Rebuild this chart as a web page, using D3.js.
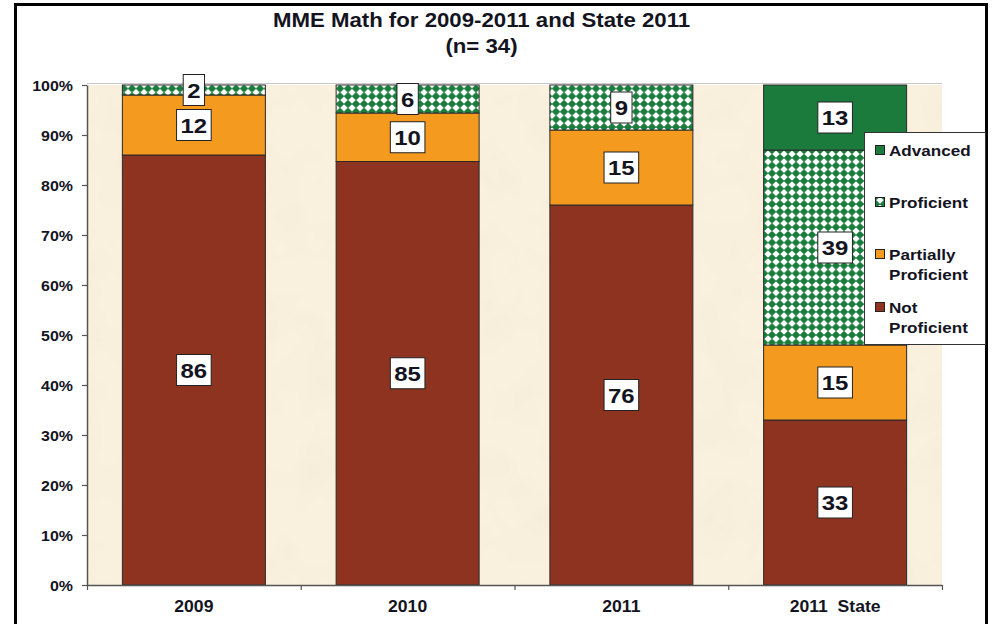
<!DOCTYPE html>
<html>
<head>
<meta charset="utf-8">
<script src="https://cdn.jsdelivr.net/npm/d3@7"></script>
<style>
  html, body { margin: 0; padding: 0; background: #ffffff; }
  svg { display: block; }
  text { font-family: "Liberation Sans", Arial, sans-serif; fill: #14141f; }
</style>
</head>
<body>
<div id="chart"></div>
<script>
// ---------- data ----------
const categories = ["2009", "2010", "2011", "2011  State"];
const notProficient = [86, 84.7, 76, 33];
const partiallyProficient = [12, 9.7, 15, 15];
const proficient = [2, 5.6, 9, 39];
const advanced = [0, 0, 0, 13];
const seriesNames = ["Not Proficient", "Partially Proficient", "Proficient", "Advanced"];
const legendLabels = [["Advanced"], ["Proficient"], ["Partially", "Proficient"], ["Not", "Proficient"]];
const yTicks = [0, 10, 20, 30, 40, 50, 60, 70, 80, 90, 100];
const titleLines = ["MME Math for 2009-2011 and State 2011", "(n= 34)"];

// ---------- setup ----------
const W = 993, H = 624;
const plot = { left: 87, right: 942, top: 85, bottom: 585 };
const SX = 1.14; // horizontal stretch of the reference text

const svg = d3.select("#chart").append("svg").attr("width", W).attr("height", H);
const defs = svg.append("defs");

// checkered proficient pattern
const pat = defs.append("pattern").attr("id", "prof").attr("patternUnits", "userSpaceOnUse")
  .attr("width", 8).attr("height", 7.7);
pat.append("rect").attr("width", 8).attr("height", 7.7).attr("fill", "#ffffff");
pat.append("rect").attr("x", 0).attr("y", 3.2).attr("width", 8).attr("height", 1.4).attr("fill", "#1b7d3d");
pat.append("rect").attr("x", 3.3).attr("y", 0).attr("width", 1.4).attr("height", 7.7).attr("fill", "#1b7d3d").attr("opacity", 0.6);
pat.append("path").attr("d", "M4,0.0 L7.9,3.9 L4,7.8 L0.1,3.9 Z").attr("fill", "#1b7d3d");
pat.append("circle").attr("cx", 4).attr("cy", 3.9).attr("r", 2.9).attr("fill", "#1b7d3d");

// paper texture
const filt = defs.append("filter").attr("id", "paper").attr("x", 0).attr("y", 0).attr("width", "100%").attr("height", "100%");
filt.append("feTurbulence").attr("type", "fractalNoise").attr("baseFrequency", "0.02").attr("numOctaves", 3).attr("seed", 7);
filt.append("feColorMatrix").attr("type", "matrix")
  .attr("values", "0 0 0 0 0.92  0 0 0 0 0.85  0 0 0 0 0.70  0 0 0 1.8 -0.7");

const colors = {
  "Not Proficient": "#8e3320",
  "Partially Proficient": "#f39a1f",
  "Proficient": "url(#prof)",
  "Advanced": "#1a7b3c"
};

// outer frame
svg.append("rect").attr("x", 15.5).attr("y", 4.5).attr("width", 971).attr("height", 660)
  .attr("fill", "none").attr("stroke", "#000").attr("stroke-width", 3);

// title
titleLines.forEach((t, i) => {
  svg.append("text")
    .attr("transform", `translate(${481.5},${27 + i * 26}) scale(${SX},1)`)
    .attr("text-anchor", "middle").attr("font-size", 19.5).attr("font-weight", "bold")
    .text(t);
});

// scales
const x = d3.scaleBand().domain(categories).range([plot.left, plot.right])
  .paddingInner(0.331).paddingOuter(0.1655);
const y = d3.scaleLinear().domain([0, 100]).range([plot.bottom, plot.top]);
const xb = d3.scaleLinear().domain([0, categories.length]).range([plot.left, plot.right]);

// plot background
svg.append("rect").attr("x", plot.left).attr("y", plot.top)
  .attr("width", plot.right - plot.left).attr("height", plot.bottom - plot.top).attr("fill", "#f9f0de");
svg.append("rect").attr("x", plot.left).attr("y", plot.top)
  .attr("width", plot.right - plot.left).attr("height", plot.bottom - plot.top)
  .attr("filter", "url(#paper)");
svg.append("line").attr("x1", plot.left).attr("x2", plot.right).attr("y1", plot.top - 1.5).attr("y2", plot.top - 1.5)
  .attr("stroke", "#c8c8c8").attr("stroke-width", 1);

// stack
const rows = categories.map((c, i) => ({
  cat: c,
  "Not Proficient": notProficient[i],
  "Partially Proficient": partiallyProficient[i],
  "Proficient": proficient[i],
  "Advanced": advanced[i]
}));
const stacked = d3.stack().keys(seriesNames)(rows);

const gBars = svg.append("g");
stacked.forEach(layer => {
  gBars.selectAll(null).data(layer.filter(d => d[1] - d[0] > 0)).enter().append("rect")
    .attr("x", d => x(d.data.cat))
    .attr("width", x.bandwidth())
    .attr("y", d => y(d[1]))
    .attr("height", d => y(d[0]) - y(d[1]))
    .attr("fill", colors[layer.key])
    .attr("stroke", "#2a2a2a").attr("stroke-width", 1);
});

// axes
const yAxis = svg.append("g").attr("transform", `translate(${plot.left},0)`)
  .call(d3.axisLeft(y).tickValues(yTicks).tickFormat(d => d + "%").tickSize(5).tickSizeOuter(0));
yAxis.select(".domain").attr("stroke", "#555").attr("stroke-width", 1.5);
yAxis.selectAll(".tick line").attr("stroke", "#555").attr("stroke-width", 1.2);
yAxis.selectAll(".tick text")
  .attr("x", -14 / SX).attr("dy", "0.36em")
  .attr("transform", `scale(${SX},1)`)
  .attr("font-size", 14).attr("font-weight", "bold").attr("font-family", "Liberation Sans, Arial, sans-serif")
  .attr("fill", "#14141f");

const xAxis = svg.append("g").attr("transform", `translate(0,${plot.bottom})`)
  .call(d3.axisBottom(xb).tickValues(d3.range(categories.length + 1)).tickFormat("").tickSize(5).tickSizeOuter(0));
xAxis.select(".domain").attr("stroke", "#555").attr("stroke-width", 1.5);
xAxis.selectAll(".tick line").attr("stroke", "#555").attr("stroke-width", 1.2);

svg.append("g").selectAll("text").data(categories).enter().append("text")
  .attr("transform", d => `translate(${x(d) + x.bandwidth() / 2},${612}) scale(1.1,1)`)
  .attr("text-anchor", "middle").attr("font-size", 16).attr("font-weight", "bold")
  .style("white-space", "pre").attr("xml:space", "preserve")
  .text(d => d);

// data labels
const gLab = svg.append("g");
stacked.forEach(layer => {
  layer.filter(d => d[1] - d[0] > 0).forEach(d => {
    const cx = x(d.data.cat) + x.bandwidth() / 2;
    const cy = y((d[0] + d[1]) / 2);
    const g = gLab.append("g").attr("transform", `translate(${cx},${cy})`);
    const rect = g.append("rect");
    const t = g.append("text").attr("text-anchor", "middle").attr("dy", "0.36em")
      .attr("transform", `scale(${SX},1)`)
      .attr("font-size", 21).attr("font-weight", "bold")
      .text(Math.round(d[1] - d[0]));
    const w = t.node().getComputedTextLength() * SX + 8;
    rect.attr("x", -w / 2).attr("y", -15.5).attr("width", w).attr("height", 31)
      .attr("fill", "#ffffff").attr("stroke", "#222").attr("stroke-width", 1);
  });
});

// legend
const lg = svg.append("g");
lg.append("rect").attr("x", 864.5).attr("y", 132.5).attr("width", 121).attr("height", 212)
  .attr("fill", "#ffffff").attr("stroke", "#333").attr("stroke-width", 1);
const legendKeys = ["Advanced", "Proficient", "Partially Proficient", "Not Proficient"];
const legendBase = [156, 208, 260, 313];
legendKeys.forEach((k, i) => {
  const by = legendBase[i];
  lg.append("rect").attr("x", 875.5).attr("y", by - 10.5).attr("width", 9).attr("height", 9)
    .attr("fill", colors[k]).attr("stroke", "#222").attr("stroke-width", 1);
  legendLabels[i].forEach((line, j) => {
    lg.append("text")
      .attr("transform", `translate(889,${by + j * 20}) scale(${SX},1)`)
      .attr("font-size", 15).attr("font-weight", "bold")
      .text(line);
  });
});
</script>
</body>
</html>
